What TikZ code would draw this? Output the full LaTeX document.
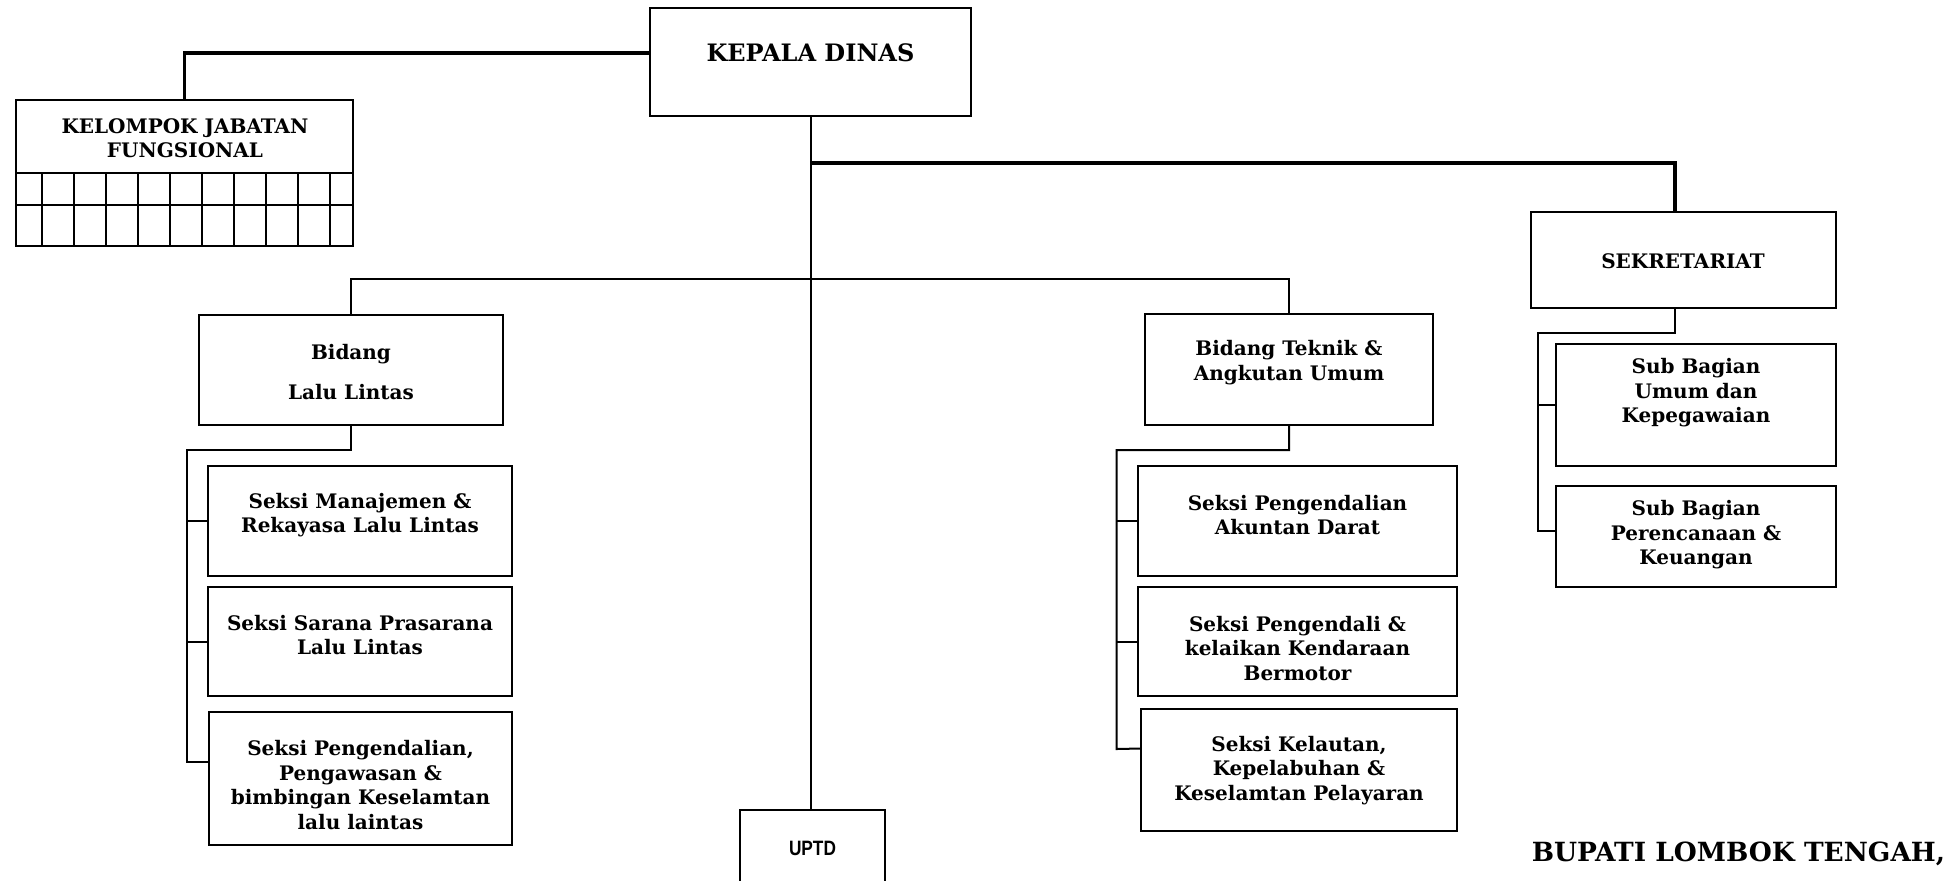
\documentclass[tikz,border=0pt]{standalone}
\usepackage{fontspec}
\setmainfont{DejaVu Serif}
\newfontfamily\uptdfam{Liberation Sans}
\usepackage{graphicx}
\usetikzlibrary{fit}
\newcommand\sekfont{\fontsize{10}{12.25}\selectfont\bfseries}
\newcommand\bigfont{\fontsize{12}{14}\selectfont\bfseries}
\newcommand\bupfont{\fontsize{13.2}{16}\selectfont\bfseries}
\newcommand\uptdfont{\uptdfam\fontsize{10.4}{12}\selectfont\bfseries}
\tikzset{
  boxx/.style={draw, line width=1pt, inner sep=0pt},
  txt/.style={align=center, inner sep=0pt, font=\sekfont},
  thinline/.style={line width=1pt},
  thickline/.style={line width=1.8pt},
}
\begin{document}
\begin{tikzpicture}[x=0.5pt,y=-0.5pt]
\useasboundingbox (0,0) rectangle (1953,880);
\clip (0,0) rectangle (1953,880);
% boxes
\node[boxx, fit={(650,8) (971,116)}] (kd) {};
\node[boxx, fit={(16,100) (353,246)}] (kjf) {};
\node[boxx, fit={(1531,212) (1836,308)}] (sek) {};
\node[boxx, fit={(199,315) (503,425)}] (bll) {};
\node[boxx, fit={(208,466) (512,576)}] (s1) {};
\node[boxx, fit={(208,587) (512,696)}] (s2) {};
\node[boxx, fit={(209,712) (512,845)}] (s3) {};
\node[boxx, fit={(1145,314) (1433,425)}] (bt) {};
\node[boxx, fit={(1138,466) (1457,576)}] (t1) {};
\node[boxx, fit={(1138,587) (1457,696)}] (t2) {};
\node[boxx, fit={(1141,709) (1457,831)}] (t3) {};
\node[boxx, fit={(1556,344) (1836,466)}] (sb1) {};
\node[boxx, fit={(1556,486) (1836,587)}] (sb2) {};
\node[boxx, fit={(740,810) (885,900)}] (uptd) {};
% grid of kelompok jabatan fungsional
\draw[line width=1pt] (kjf.west |- 0,173) -- (kjf.east |- 0,173);
\draw[line width=1pt] (kjf.west |- 0,205) -- (kjf.east |- 0,205);
\foreach \i in {0,...,9}{
  \draw[line width=1pt] (41.5+32*\i,173) -- (41.5+32*\i,246);
}
% texts
\node[txt, font=\bigfont] (kdt) at (810.5,53) {KEPALA DINAS};
\node[txt] (kjft) at (185,138) {KELOMPOK JABATAN\\FUNGSIONAL};
\node[txt] (sekt) at (1683,261) {SEKRETARIAT};
\node[txt] (bllt) at (351,372) {Bidang\\[7.5pt]Lalu Lintas};
\node[txt] (s1t) at (360,515) {Seksi Manajemen \&\\Rekayasa Lalu Lintas};
\node[txt] (s2t) at (360,635) {Seksi Sarana Prasarana\\Lalu Lintas};
\node[txt] (s3t) at (360.5,785) {Seksi Pengendalian,\\Pengawasan \&\\bimbingan Keselamtan\\lalu laintas};
\node[txt] (btt) at (1289,362.5) {Bidang Teknik \&\\Angkutan Umum};
\node[txt] (t1t) at (1297.5,515) {Seksi Pengendalian\\Akuntan Darat};
\node[txt] (t2t) at (1297.5,648.5) {Seksi Pengendali \&\\kelaikan Kendaraan\\Bermotor};
\node[txt] (t3t) at (1299,770.5) {Seksi Kelautan,\\Kepelabuhan \&\\Keselamtan Pelayaran};
\node[txt] (sb1t) at (1696,393) {Sub Bagian\\Umum dan\\Kepegawaian};
\node[txt] (sb2t) at (1696,535) {Sub Bagian\\Perencanaan \&\\Keuangan};
\node[txt, font=\uptdfont] (uptdt) at (812.5,848) {\scalebox{0.83}[1]{UPTD}};
\node[txt, font=\bupfont] (bup) at (1738.5,854) {BUPATI LOMBOK TENGAH,};
% connectors
\draw[thickline] (kd.west |- kdt.center) -| (kjf.north);
\draw[thinline] (kd.south) -- (kd.south |- uptd.north);
\coordinate (j1) at (810.5,163);
\draw[thickline] (j1) -| ([xshift=-4.25pt]sek.north);
\coordinate (j2) at (810.5,279);
\draw[thinline] (bll.north) |- (j2) -| (bt.north);
% bidang lalu lintas
\coordinate (la) at (187,450);
\coordinate (lb) at (187,762);
\draw[thinline] (bll.south) |- (la) -- (lb) -- ([yshift=8.25pt]s3.west);
\draw[thinline] (la |- s1.west) -- (s1.west);
\draw[thinline] (la |- s2.west) -- (s2.west);
% bidang teknik
\coordinate (ta) at (1116.7,450);
\coordinate (tb) at (1116.7,749);
\draw[thinline] (bt.south) |- (ta) -- (tb) -- ([yshift=10.75pt]t3.west);
\draw[thinline] (ta |- t1.west) -- (t1.west);
\draw[thinline] (ta |- t2.west) -- (t2.west);
% sekretariat
\coordinate (sa) at (1538.3,333);
\coordinate (sbb) at (1538.3,531);
\draw[thinline] ([xshift=-4.25pt]sek.south) |- (sa) -- (sbb) -- ([yshift=2.75pt]sb2.west);
\draw[thinline] (sa |- sb1.west) -- (sb1.west);
\end{tikzpicture}
\end{document}
